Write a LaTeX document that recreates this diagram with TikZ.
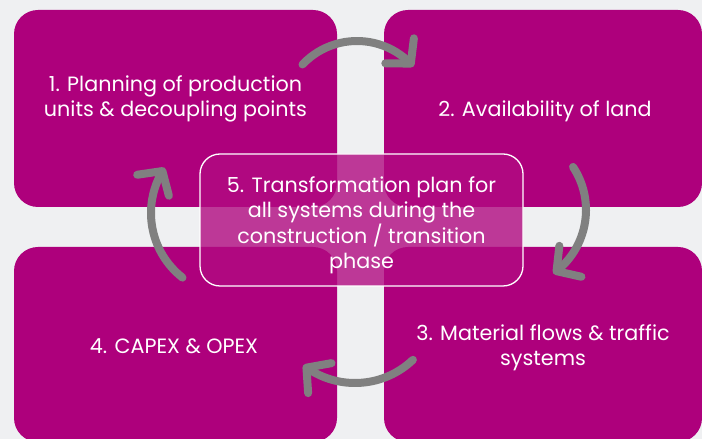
\documentclass[tikz,border=0pt]{standalone}
\usepackage{fontspec}
\setmainfont{Poppins}
\usetikzlibrary{positioning,arrows.meta,bending}

\definecolor{plum}{HTML}{AE007C}
\definecolor{paper}{HTML}{EFF0F2}
\definecolor{ring}{HTML}{808080}

\begin{document}
\begin{tikzpicture}[
  x=1pt, y=1pt,
  tile/.style={fill=plum, rounded corners=24pt, inner sep=0pt},
  hub/.style={fill=plum!96!white, fill opacity=0.8, draw=white, line width=1.3pt,
              rounded corners=20pt, inner sep=0pt},
  tiletext/.style={text=white, align=center, font=\fontsize{20.7}{25}\selectfont},
  flowarrow/.style={ring, line width=8pt, line cap=round,
                    -{Straight Barb[length=17pt, width=38pt, round, flex=1.8]}}
]
  % canvas
  \useasboundingbox (0,0) rectangle (702,439);
  \fill[paper] (0,0) rectangle (702,439);
  \clip (0,0) rectangle (702,439);

  % Four phase tiles
  \node[tile, minimum width=323pt, minimum height=197pt] (S1) at (175.5,330.5) {};
  \node[tile, minimum width=318pt, minimum height=197pt] (S2) at (543,330.5) {};
  \node[tile, minimum width=318pt, minimum height=195pt] (S3) at (543,94.5) {};
  \node[tile, minimum width=323pt, minimum height=195pt] (S4) at (175.5,94.5) {};

  \node[tiletext] at ([yshift=9.5pt]S1.center)
    {1. Planning of production\\units \& decoupling points};
  \node[tiletext] at ([xshift=2pt,yshift=-3pt]S2.center) {2. Availability of land};
  \node[tiletext] at ([yshift=-3.5pt]S3.center)
    {3. Material flows \& traffic\\systems};
  \node[tiletext] at ([xshift=-1.5pt,yshift=-1.5pt]S4.center) {4. CAPEX \& OPEX};

  % Centre: transformation plan (translucent overlay)
  \node[hub, minimum width=323pt, minimum height=132pt] (S5) at (361.5,219) {};
  \node[tiletext] at ([yshift=-5pt]S5.center)
    {5. Transformation plan for\\all systems during the\\construction / transition\\phase};

  % Circular arrows, clockwise
  \coordinate (C1) at (357,323);
  \coordinate (C2) at (508,229);
  \coordinate (C3) at (355,140);
  \coordinate (C4) at (233,226);
  \draw[flowarrow] (C1) ++(136.6:75) arc[start angle=136.6, end angle=41.2, radius=75];
  \draw[flowarrow] (C2) ++(33.5:78) arc[start angle=33.5, end angle=-54.5, radius=78];
  \draw[flowarrow] (C3) ++(-46.4:84) arc[start angle=-46.4, end angle=-128, radius=84];
  \draw[flowarrow] (C4) ++(232:82) arc[start angle=232, end angle=146.5, radius=82];
\end{tikzpicture}
\end{document}
